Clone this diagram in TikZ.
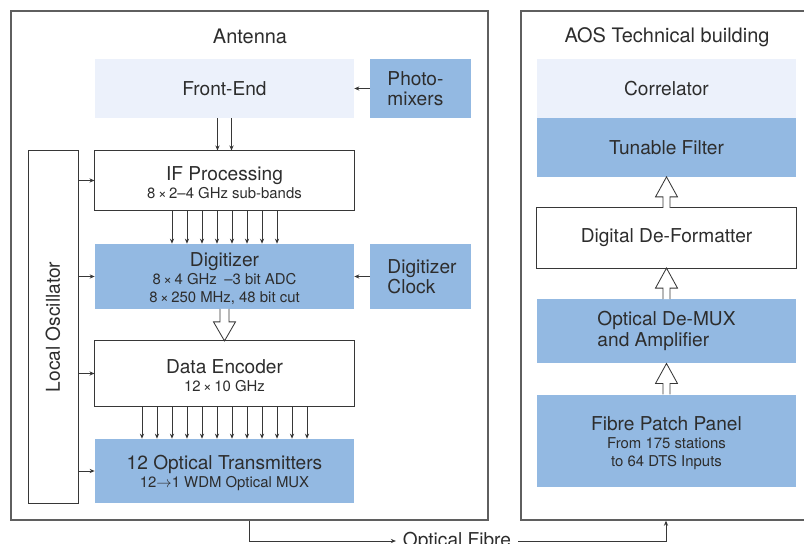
\documentclass[tikz,border=0pt]{standalone}
\usepackage{fontspec}
\setmainfont{TeX Gyre Heros}
\usetikzlibrary{arrows.meta}
\definecolor{boxblue}{RGB}{147,185,226}
\definecolor{boxpale}{RGB}{236,241,251}
\definecolor{linegray}{RGB}{55,55,55}
\definecolor{frmgray}{RGB}{95,95,95}
\definecolor{txtgray}{RGB}{45,45,45}
\newcommand{\sml}{\fontsize{10.6}{12.8}\selectfont}
\newcommand{\tl}{\rule{0pt}{13.6pt}}

\begin{document}
\begin{tikzpicture}[x=0.025cm,y=-0.025cm,font=\fontsize{13.6}{12.8}\selectfont,text=txtgray]
\tikzstyle{frm}=[rectangle, draw=frmgray, line width=0.9pt, minimum height=12.725cm]
\tikzstyle{bx}=[rectangle, inner sep=0pt, align=center, minimum width=6.475cm]
\tikzstyle{bxw}=[bx, draw=linegray, line width=0.7pt, fill=white]
\tikzstyle{bxb}=[bx, fill=boxblue]
\tikzstyle{bxp}=[bx, fill=boxpale]
\tikzstyle{side}=[rectangle, fill=boxblue, align=left, text width=1.65cm, inner xsep=0.425cm, inner ysep=0pt, minimum width=2.525cm, font=\fontsize{13.6}{14}\selectfont]
\tikzstyle{arr}=[draw=linegray, line width=0.6pt, -{Stealth[length=3.6pt,width=3pt]}]
\tikzstyle{txtonly}=[rectangle, inner sep=0pt]
\tikzset{fatdown/.pic={\draw[draw=linegray, line width=0.6pt, fill=white] (-4.5,-16) -- (-4.5,-3) -- (-11,-3) -- (0,16) -- (11,-3) -- (4.5,-3) -- (4.5,-16);},
  fatup/.pic={\draw[draw=linegray, line width=0.6pt, fill=white] (-3.5,15.5) -- (-3.5,4.5) -- (-11,4.5) -- (0,-15.5) -- (11,4.5) -- (3.5,4.5) -- (3.5,15.5);}}
\useasboundingbox (0,0) rectangle (804,544);
\node (ant) [frm, minimum width=11.925cm] at (249.5,265.5) {};
\node (aos) [frm, minimum width=7.25cm] at (666,265.5) {};
\node (antt) [txtonly, font=\fontsize{14.2}{14}\selectfont] at (250,36) {Antenna};
\node (aost) [txtonly, font=\fontsize{14.2}{14}\selectfont] at (667,37.5) {AOS Technical building};
\node (fe) [bxp, minimum height=1.475cm] at (224.5,88.5) {Front-End};
\node (pm) [side, minimum height=1.475cm] at (420.5,88.5) {Photo-\\mixers};
\node (ifp) [bxw, minimum height=1.475cm] at (224.5,180.5) {\tl IF Processing\\{\sml 8\,×\,2–4 GHz sub-bands}};
\node (dig) [bxb, minimum height=1.625cm] at (224.5,276.5) {\tl Digitizer\\{\sml 8\,×\,4 GHz\enspace–3 bit ADC}\\{\sml 8\,×\,250 MHz, 48 bit cut}};
\node (clk) [side, minimum height=1.625cm] at (420.5,276.5) {Digitizer\\Clock};
\node (enc) [bxw, minimum height=1.625cm] at (224.5,373.5) {\tl Data Encoder\\{\sml 12\,×\,10 GHz}};
\node (otx) [bxb, minimum height=1.6cm] at (224.5,471) {\tl 12 Optical Transmitters\\{\sml 12$\rightarrow$1 WDM Optical MUX}};
\node (lo) [rectangle, draw=linegray, line width=0.7pt, minimum width=1.25cm, minimum height=8.8cm] at (53,327) {};
\node (lot) [txtonly, rotate=90] at (lo.center) {Local Oscillator};
\node (cor) [bxp, minimum height=1.475cm] at (666.5,88.5) {Correlator};
\node (tun) [bxb, minimum height=1.475cm] at (666.5,147.5) {Tunable Filter};
\node (ddf) [bxw, minimum height=1.5cm] at (666.5,238) {Digital De-Formatter};
\node (dmx) [bxb, minimum height=1.6cm, align=left, font=\fontsize{13.6}{15.5}\selectfont] at (666.5,331) {Optical De-MUX\\and Amplifier};
\node (fpp) [bxb, minimum height=2.3cm] at (666.5,441) {\tl Fibre Patch Panel\\{\sml From 175 stations}\\{\sml to 64 DTS Inputs}};
\node (fib) [txtonly, inner xsep=0.17cm] at (457,541) {Optical Fibre};
\draw[arr] (pm) -- (fe);
\draw[arr] (clk) -- (dig);
\draw[arr] ([xshift=-0.175cm]fe.south) -- ([xshift=-0.175cm]ifp.north);
\draw[arr] ([xshift=0.175cm]fe.south) -- ([xshift=0.175cm]ifp.north);
\foreach \i in {0,...,7}
  \draw[arr] ([xshift={(\i-3.5)*0.375cm}]ifp.south) -- ([xshift={(\i-3.5)*0.375cm}]dig.north);
\foreach \i in {0,...,11}
  \draw[arr] ([xshift={(\i-5.5)*0.375cm}]enc.south) -- ([xshift={(\i-5.5)*0.375cm}]otx.north);
\foreach \b in {ifp,dig,enc,otx}
  \draw[arr] (lo.east |- \b.west) -- (\b.west);
\path (dig.south) -- coordinate[pos=.5] (m0) (enc.north);
\path (tun.south) -- coordinate[pos=.5] (m1) (ddf.north);
\path (ddf.south) -- coordinate[pos=.5] (m2) (dmx.north);
\path (dmx.south) -- coordinate[pos=.5] (m3) (fpp.north);
\pic at (m0) {fatdown};
\pic at (m1) {fatup};
\pic at (m2) {fatup};
\pic at (m3) {fatup};
\draw[arr] (ant.south) |- (fib.west);
\draw[arr] (fib.east) -| (aos.south);
\end{tikzpicture}
\end{document}
